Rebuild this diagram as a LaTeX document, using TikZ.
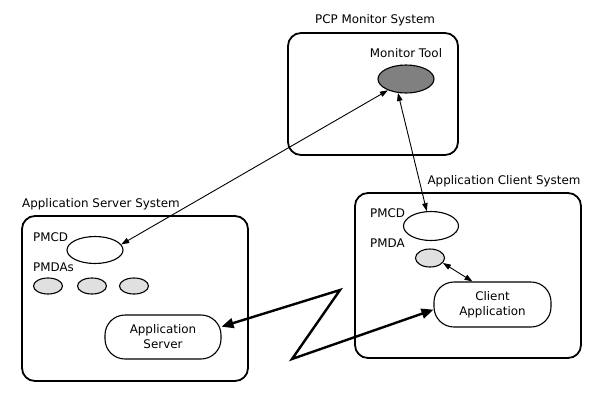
\documentclass[tikz,border=0pt]{standalone}
\usepackage{fontspec}
\setmainfont{DejaVu Sans}
\usetikzlibrary{shapes.geometric,arrows.meta}
\begin{document}
\begin{tikzpicture}[x=1pt,y=-1pt,
  sysbox/.style={draw,line width=1.8pt,rounded corners=13pt,inner sep=0pt},
  lbl/.style={font=\fontsize{11.9}{15}\selectfont,inner sep=0pt},
  ell/.style={ellipse,draw,line width=1.1pt,inner sep=0pt},
  pmda/.style={ell,fill=black!12,minimum width=29pt,minimum height=16pt},
  proc/.style={draw,line width=1.1pt,rounded corners=20pt,inner sep=0pt,align=center,font=\fontsize{11.9}{15}\selectfont},
  thinarrow/.style={line width=0.9pt,{Triangle[length=8pt,width=5.5pt]}-{Triangle[length=8pt,width=5.5pt]}},
  thickarrow/.style={line width=2.4pt,line join=miter,miter limit=40,{Triangle[length=12pt,width=10pt]}-{Triangle[length=12pt,width=10pt]}}
]
\useasboundingbox (0,0) rectangle (600,400);
% system boxes
\node[sysbox,minimum width=170pt,minimum height=122pt] (mon) at (373,94) {};
\node[sysbox,minimum width=226pt,minimum height=165pt] (srv) at (135,298.5) {};
\node[sysbox,minimum width=226pt,minimum height=165pt] (cli) at (468,275.5) {};
% box labels
\node[lbl] (monlbl) at (375,20) {PCP Monitor System};
\node[lbl,anchor=west] (srvlbl) at (22,204) {Application Server System};
\node[lbl] (clilbl) at (504,181) {Application Client System};
% monitor tool
\node[lbl] (toollbl) at (406,53) {Monitor Tool};
\node[ell,fill=black!50,minimum width=56pt,minimum height=28pt] (tool) at (406,79) {};
% server side
\node[lbl,anchor=west] (spmcdlbl) at (33,237) {PMCD};
\node[ell,minimum width=56pt,minimum height=27pt] (spmcd) at (95,250) {};
\node[lbl,anchor=west] (spmdalbl) at (33,267) {PMDAs};
\node[pmda] (spmda1) at (48,286) {};
\node[pmda] (spmda2) at (92,286) {};
\node[pmda] (spmda3) at (134,286) {};
\node[proc,minimum width=116pt,minimum height=44pt] (appsrv) at (163,337) {Application\\Server};
% client side
\node[lbl,anchor=west] (cpmcdlbl) at (370,213) {PMCD};
\node[ell,minimum width=55pt,minimum height=29pt] (cpmcd) at (431,226) {};
\node[lbl,anchor=west] (cpmdalbl) at (370,243) {PMDA};
\node[pmda,minimum height=18pt] (cpmda) at (430,258) {};
\node[proc,minimum width=117pt,minimum height=45pt] (appcli) at (492.5,304.5) {Client\\Application};
% connectors
\draw[thinarrow] (tool.212) -- (spmcd.12);
\draw[thinarrow] (tool.240) -- (cpmcd.106);
\draw[thinarrow] (cpmda.339) -- (appcli.131);
\coordinate (z1) at (340,290);
\coordinate (z2) at (292,359);
\draw[thickarrow] (appsrv.10) -- (z1) -- (z2) -- (appcli.185);
\end{tikzpicture}
\end{document}
